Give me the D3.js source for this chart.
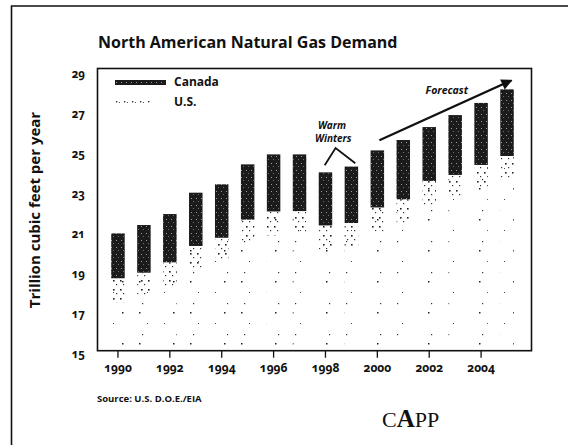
<!DOCTYPE html>
<html>
<head>
<meta charset="utf-8">
<script src="https://cdn.jsdelivr.net/npm/d3@7"></script>
<style>
  body { margin: 0; background: #fff; }
  svg text { font-family: "Open Sans", "DejaVu Sans", sans-serif; font-weight: 700; fill: #111; font-variant-numeric: oldstyle-nums; }
</style>
</head>
<body>
<div class="chart"></div>
<script>
// values (trillion cubic feet per year)
const years = [1990, 1991, 1992, 1993, 1994, 1995, 1996, 1997, 1998, 1999, 2000, 2001, 2002, 2003, 2004, 2005]
const usDemand = [18.63, 18.91, 19.43, 20.25, 20.66, 21.57, 21.98, 22.0, 21.28, 21.40, 22.18, 22.59, 23.51, 23.81, 24.31, 24.76]
const canadaDemand = [2.25, 2.39, 2.42, 2.67, 2.68, 2.77, 2.86, 2.84, 2.66, 2.83, 2.86, 2.97, 2.70, 3.00, 3.11, 3.34]
const yTicks = [15, 17, 19, 21, 23, 25, 27, 29]
const xTicks = [1990, 1992, 1994, 1996, 1998, 2000, 2002, 2004]
const seriesNames = ['Canada', 'U.S.']

const width = 568, height = 445

const svg = d3.select('.chart').append('svg')
  .attr('width', width)
  .attr('height', height)

const defs = svg.append('defs')

// little helper for the speckle patterns (scanned halftone look)
function speckle(id, w, h, bg, dots) {
  const p = defs.append('pattern')
    .attr('id', id)
    .attr('patternUnits', 'userSpaceOnUse')
    .attr('width', w).attr('height', h)
  if (bg) p.append('rect').attr('width', w).attr('height', h).attr('fill', bg)
  dots.forEach(([dx, dy, s, c]) => {
    p.append('rect').attr('x', dx).attr('y', dy).attr('width', s).attr('height', s).attr('fill', c)
  })
}
speckle('canadaFill', 5, 7, '#1b1b1b', [[1, 2, 1, '#9a9a9a'], [3, 5, 1, '#6e6e6e']])
speckle('usFill', 17, 31, null, [[3, 2, 1.5, '#222'], [11, 13, 1, '#444'], [6, 24, 1.2, '#333']])
speckle('usNearFill', 7, 9, null, [[1, 1, 1.6, '#222'], [4, 5, 1.2, '#333']])
speckle('usLegendFill', 8, 5, null, [[1, 1, 1.4, '#333'], [4, 2, 1, '#555']])

defs.append('marker')
  .attr('id', 'arrowHead')
  .attr('viewBox', '0 0 10 10')
  .attr('refX', 9).attr('refY', 5)
  .attr('markerWidth', 6).attr('markerHeight', 5)
  .attr('orient', 'auto')
  .append('path')
  .attr('d', 'M0,0L10,5L0,10z')
  .attr('fill', '#111')

// page border (scan edge)
svg.append('path')
  .attr('d', 'M568,6H11.5V445')
  .attr('fill', 'none')
  .attr('stroke', '#111')
  .attr('stroke-width', 1.6)

const x = d3.scaleBand()
  .domain(years)
  .range([105, 520])
  .paddingInner(0.48)
  .paddingOuter(0.24)

// year -> bar centre, used for annotations
const xYear = d3.scaleLinear()
  .domain([years[0], years[years.length - 1]])
  .range([x(years[0]) + x.bandwidth() / 2, x(years[years.length - 1]) + x.bandwidth() / 2])

const y = d3.scaleLinear()
  .domain([15, 29])
  .range([350.7, 71.4])

// title
svg.append('text')
  .attr('x', 98)
  .attr('y', 48)
  .style('font-size', '16px')
  .text('North American Natural Gas Demand')

// y axis title
svg.append('text')
  .attr('transform', 'translate(40,210) rotate(-90)')
  .attr('text-anchor', 'middle')
  .style('font-size', '15px')
  .text('Trillion cubic feet per year')

// bars
const rows = years.map((yr, i) => ({ year: yr, us: usDemand[i], canada: canadaDemand[i] }))
const stack = d3.stack().keys(['us', 'canada'])(rows)

const bars = svg.append('g')
bars.selectAll('g')
  .data(stack)
  .join('g')
  .attr('fill', d => d.key === 'us' ? 'url(#usFill)' : 'url(#canadaFill)')
  .selectAll('rect')
  .data(d => d)
  .join('rect')
  .attr('x', d => x(d.data.year))
  .attr('width', x.bandwidth())
  .attr('y', d => y(d[1]))
  .attr('height', d => (d[0] === 0 ? y(15) : y(d[0])) - y(d[1]))

// denser specks just under the Canada block, like the scan
bars.append('g')
  .attr('fill', 'url(#usNearFill)')
  .selectAll('rect')
  .data(rows)
  .join('rect')
  .attr('x', d => x(d.year))
  .attr('width', x.bandwidth())
  .attr('y', d => y(d.us))
  .attr('height', d => y(Math.max(15, d.us - 1.2)) - y(d.us))

// plot frame
svg.append('rect')
  .attr('x', 97.5)
  .attr('y', 68.5)
  .attr('width', 434)
  .attr('height', y(15) - 68.5)
  .attr('fill', 'none')
  .attr('stroke', '#111')
  .attr('stroke-width', 1.6)

// axes
const yAxis = svg.append('g')
  .attr('transform', 'translate(97,0)')
  .call(d3.axisLeft(y).tickValues(yTicks).tickSize(0).tickPadding(12))
yAxis.select('.domain').remove()
yAxis.selectAll('text')
  .attr('dy', '0.55em')
  .style('font-size', '11.5px')
  .style('font-family', '"Open Sans", sans-serif')

const xAxis = svg.append('g')
  .attr('transform', `translate(0,${y(15)})`)
  .call(d3.axisBottom(x).tickValues(xTicks).tickSize(7).tickPadding(6))
xAxis.select('.domain').remove()
xAxis.selectAll('line').attr('stroke', '#111').attr('stroke-width', 1.3)
xAxis.selectAll('text')
  .style('font-size', '12px')
  .style('font-family', '"Open Sans", sans-serif')

// legend
const legend = svg.append('g').attr('transform', 'translate(115,80)')
legend.append('rect').attr('width', 51).attr('height', 5).attr('fill', 'url(#canadaFill)')
legend.append('rect').attr('y', 20).attr('width', 36).attr('height', 4).attr('fill', 'url(#usLegendFill)')
legend.selectAll('text')
  .data(seriesNames)
  .join('text')
  .attr('x', 59)
  .attr('y', (d, i) => 6 + i * 20)
  .style('font-size', '12px')
  .text(d => d)

// "Warm Winters" annotation
const warm = svg.append('g')
warm.append('text')
  .attr('x', xYear(1998.25))
  .attr('y', y(26.13))
  .attr('text-anchor', 'middle')
  .style('font-size', '10px')
  .style('font-style', 'italic')
  .text('Warm')
warm.append('text')
  .attr('x', xYear(1998.3))
  .attr('y', y(25.46))
  .attr('text-anchor', 'middle')
  .style('font-size', '10px')
  .style('font-style', 'italic')
  .text('Winters')
warm.append('path')
  .attr('d', d3.line()([[xYear(1997.97), y(24.3)], [xYear(1998.39), y(25.16)], [xYear(1999.15), y(24.4)]]))
  .attr('fill', 'none')
  .attr('stroke', '#111')
  .attr('stroke-width', 1.8)

// forecast arrow
svg.append('line')
  .attr('x1', xYear(2000.08)).attr('y1', y(25.55))
  .attr('x2', xYear(2005.17)).attr('y2', y(28.55))
  .attr('stroke', '#111')
  .attr('stroke-width', 2.2)
  .attr('marker-end', 'url(#arrowHead)')
svg.append('text')
  .attr('x', xYear(2002.68))
  .attr('y', y(27.87))
  .attr('text-anchor', 'middle')
  .style('font-size', '10.5px')
  .style('font-style', 'italic')
  .text('Forecast')

// source note
svg.append('text')
  .attr('x', 97)
  .attr('y', 402)
  .style('font-size', '9.5px')
  .text('Source: U.S. D.O.E./EIA')

// CAPP logo text
const logo = svg.append('text')
  .attr('x', 382)
  .attr('y', 427)
  .style('font-family', '"Liberation Serif", serif')
  .style('font-weight', '400')
  .style('font-size', '22px')
logo.append('tspan').text('C')
logo.append('tspan').style('font-weight', '700').style('font-size', '25px').text('A')
logo.append('tspan').text('PP')
</script>
</body>
</html>
